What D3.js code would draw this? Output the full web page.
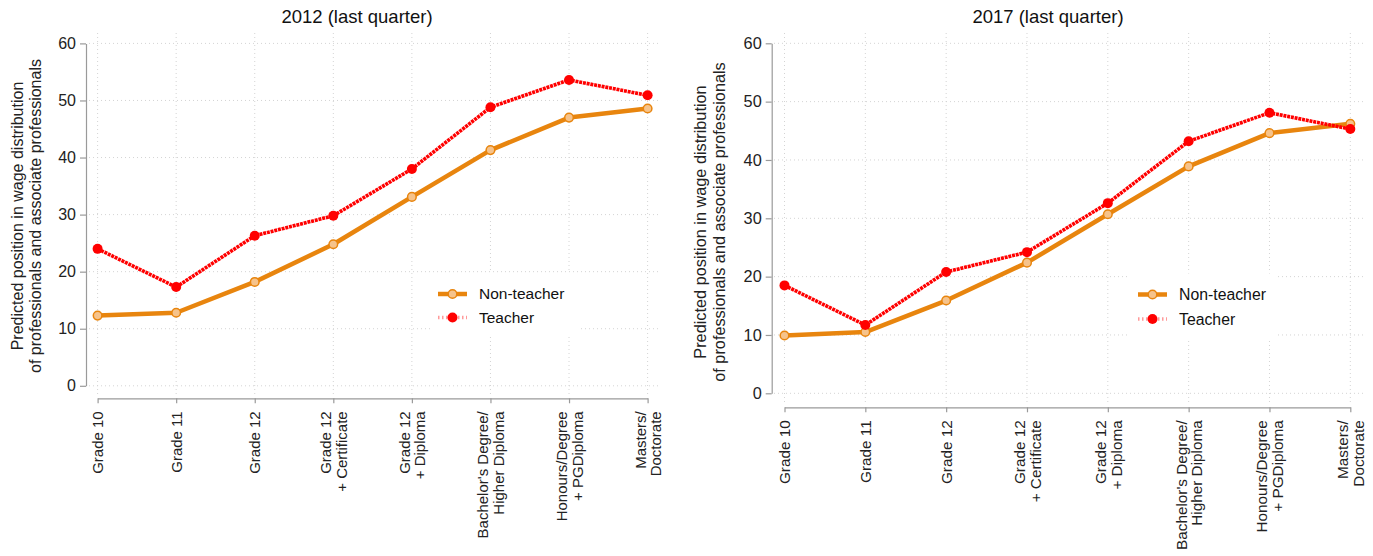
<!DOCTYPE html>
<html>
<head>
<meta charset="utf-8">
<script src="https://cdn.jsdelivr.net/npm/d3@7"></script>
<style>
  body { margin: 0; background: #fff; }
  svg { display: block; font-family: "Liberation Sans", Arial, Helvetica, sans-serif; }
</style>
</head>
<body>
<div class="canvas"></div>
<script>
// categories (multi-line tick labels)
const categories = [
  ['Grade 10'],
  ['Grade 11'],
  ['Grade 12'],
  ['Grade 12', '+ Certificate'],
  ['Grade 12', '+ Diploma'],
  ["Bachelor's Degree/", 'Higher Diploma'],
  ['Honours/Degree', '+ PGDiploma'],
  ['Masters/', 'Doctorate']
];
const yTicks = [0, 10, 20, 30, 40, 50, 60];
const seriesNames = ['Non-teacher', 'Teacher'];

// series values
const nonTeacher2012 = [12.3, 12.8, 18.2, 24.8, 33.1, 41.3, 47.0, 48.6];
const teacher2012 = [24.0, 17.3, 26.3, 29.8, 38.0, 48.8, 53.6, 50.9];
const nonTeacher2017 = [9.9, 10.5, 15.9, 22.4, 30.7, 38.9, 44.6, 46.2];
const teacher2017 = [18.5, 11.7, 20.8, 24.2, 32.6, 43.2, 48.1, 45.3];

const yTitle = ['Predicted position in wage distribution', 'of professionals and associate professionals'];

const ORANGE = '#e8850e';
const RED = '#ff0000';
const AXIS = '#9a9a9a';
const GRID = '#d4d4d4';

const svg = d3.select('.canvas').append('svg')
  .attr('width', 1373)
  .attr('height', 556);

// panel layout
const panels = [
  {
    title: '2012 (last quarter)', titleX: 357,
    nonTeacher: nonTeacher2012, teacher: teacher2012,
    axisX: 86, y0: 385.8, y60: 43.4, xFirst: 97.6, xLast: 647.6,
    axisY: 398.3, gridLeft: 89, gridRight: 660, gridTop: 33,
    titleX1: 17, titleX2: 35, titleY: 216, legX: 438, legY: 294, legGap: 23.5,
    font: 15
  },
  {
    title: '2017 (last quarter)', titleX: 1048,
    nonTeacher: nonTeacher2017, teacher: teacher2017,
    axisX: 771.7, y0: 393.3, y60: 43.3, xFirst: 784.5, xLast: 1350.3,
    axisY: 407.3, gridLeft: 774, gridRight: 1365, gridTop: 33,
    titleX1: 700, titleX2: 719, titleY: 222, legX: 1138, legY: 294.5, legGap: 24.5,
    font: 15.3
  }
];

panels.forEach(p => {
  const g = svg.append('g');

  //scales
  const x = d3.scalePoint().domain(d3.range(categories.length)).range([p.xFirst, p.xLast]);
  const y = d3.scaleLinear().domain([0, 60]).range([p.y0, p.y60]);

  //title
  g.append('text')
    .attr('x', p.titleX)
    .attr('y', 23)
    .attr('text-anchor', 'middle')
    .attr('font-size', 18.5)
    .attr('fill', '#111')
    .text(p.title);

  //grid
  g.append('g').selectAll('line.h')
    .data(yTicks)
    .join('line')
    .attr('x1', p.gridLeft).attr('x2', p.gridRight)
    .attr('y1', d => y(d)).attr('y2', d => y(d))
    .attr('stroke', GRID).attr('stroke-width', 1)
    .attr('stroke-dasharray', '1,3');
  g.append('g').selectAll('line.v')
    .data(d3.range(categories.length))
    .join('line')
    .attr('x1', d => x(d)).attr('x2', d => x(d))
    .attr('y1', p.gridTop).attr('y2', p.axisY - 3)
    .attr('stroke', GRID).attr('stroke-width', 1)
    .attr('stroke-dasharray', '1,3');

  //y axis
  const yAxisGroup = g.append('g')
    .attr('transform', `translate(${p.axisX}, 0)`)
    .call(d3.axisLeft(y).tickValues(yTicks).tickSize(6).tickSizeOuter(0).tickPadding(4));
  yAxisGroup.selectAll('path, line').attr('stroke', AXIS).attr('stroke-width', 1.2);
  yAxisGroup.selectAll('text')
    .attr('font-size', p.font + 1)
    .attr('fill', '#222')
    .attr('font-family', null);

  //x axis
  const xAxisGroup = g.append('g')
    .attr('transform', `translate(0, ${p.axisY})`)
    .call(d3.axisBottom(x).tickSize(5).tickSizeOuter(0).tickFormat(''));
  xAxisGroup.selectAll('path, line').attr('stroke', AXIS).attr('stroke-width', 1.2);
  xAxisGroup.selectAll('.tick').each(function(d) {
    const lines = categories[d];
    const lh = p.font * 1.04;
    const t = d3.select(this).append('text')
      .attr('transform', 'rotate(-90)')
      .attr('text-anchor', 'end')
      .attr('font-size', p.font)
      .attr('fill', '#222')
      .attr('font-family', null);
    lines.forEach((l, i) => {
      t.append('tspan')
        .attr('x', -13)
        .attr('y', (i - (lines.length - 1) / 2) * lh)
        .attr('dy', '0.35em')
        .text(l);
    });
  });

  //y axis title
  [p.titleX1, p.titleX2].forEach((tx, i) => {
    g.append('text')
      .attr('transform', `translate(${tx}, ${p.titleY}) rotate(-90)`)
      .attr('text-anchor', 'middle')
      .attr('dy', '0.35em')
      .attr('font-size', p.font + 1)
      .attr('fill', '#222')
      .text(yTitle[i]);
  });

  //lines
  const line = d3.line()
    .x((d, i) => x(i))
    .y(d => y(d));

  g.append('path')
    .datum(p.nonTeacher)
    .attr('d', line)
    .attr('fill', 'none')
    .attr('stroke', ORANGE)
    .attr('stroke-width', 4.5)
    .attr('stroke-linejoin', 'round');
  g.append('g').selectAll('circle')
    .data(p.nonTeacher)
    .join('circle')
    .attr('cx', (d, i) => x(i))
    .attr('cy', d => y(d))
    .attr('r', 4.3)
    .attr('fill', '#f6c38b')
    .attr('stroke', ORANGE)
    .attr('stroke-width', 1.5);

  g.append('path')
    .datum(p.teacher)
    .attr('d', line)
    .attr('fill', 'none')
    .attr('stroke', RED)
    .attr('stroke-width', 3.6)
    .attr('stroke-dasharray', '3,0.8');
  g.append('g').selectAll('circle')
    .data(p.teacher)
    .join('circle')
    .attr('cx', (d, i) => x(i))
    .attr('cy', d => y(d))
    .attr('r', 5)
    .attr('fill', RED);

  //legend
  const legend = g.append('g')
    .attr('transform', `translate(${p.legX}, ${p.legY})`);
  legend.append('rect')
    .attr('x', -8).attr('y', -21)
    .attr('width', 148).attr('height', p.legGap + 40)
    .attr('fill', '#fff');
  legend.append('line')
    .attr('x1', 0).attr('x2', 29).attr('y1', 0).attr('y2', 0)
    .attr('stroke', ORANGE).attr('stroke-width', 4.5);
  legend.append('circle')
    .attr('cx', 14.5).attr('cy', 0).attr('r', 4.3)
    .attr('fill', '#f6c38b').attr('stroke', ORANGE).attr('stroke-width', 1.5);
  legend.append('line')
    .attr('x1', 0).attr('x2', 29).attr('y1', p.legGap).attr('y2', p.legGap)
    .attr('stroke', '#ff9a9a').attr('stroke-width', 3.4)
    .attr('stroke-dasharray', '1.5,2.5');
  legend.append('circle')
    .attr('cx', 14.5).attr('cy', p.legGap).attr('r', 5)
    .attr('fill', RED);
  legend.selectAll('text.leg')
    .data(seriesNames)
    .join('text')
    .attr('x', 41)
    .attr('y', (d, i) => i * p.legGap)
    .attr('dy', '0.35em')
    .attr('font-size', p.font + 0.5)
    .attr('fill', '#111')
    .text(d => d);
});
</script>
</body>
</html>
